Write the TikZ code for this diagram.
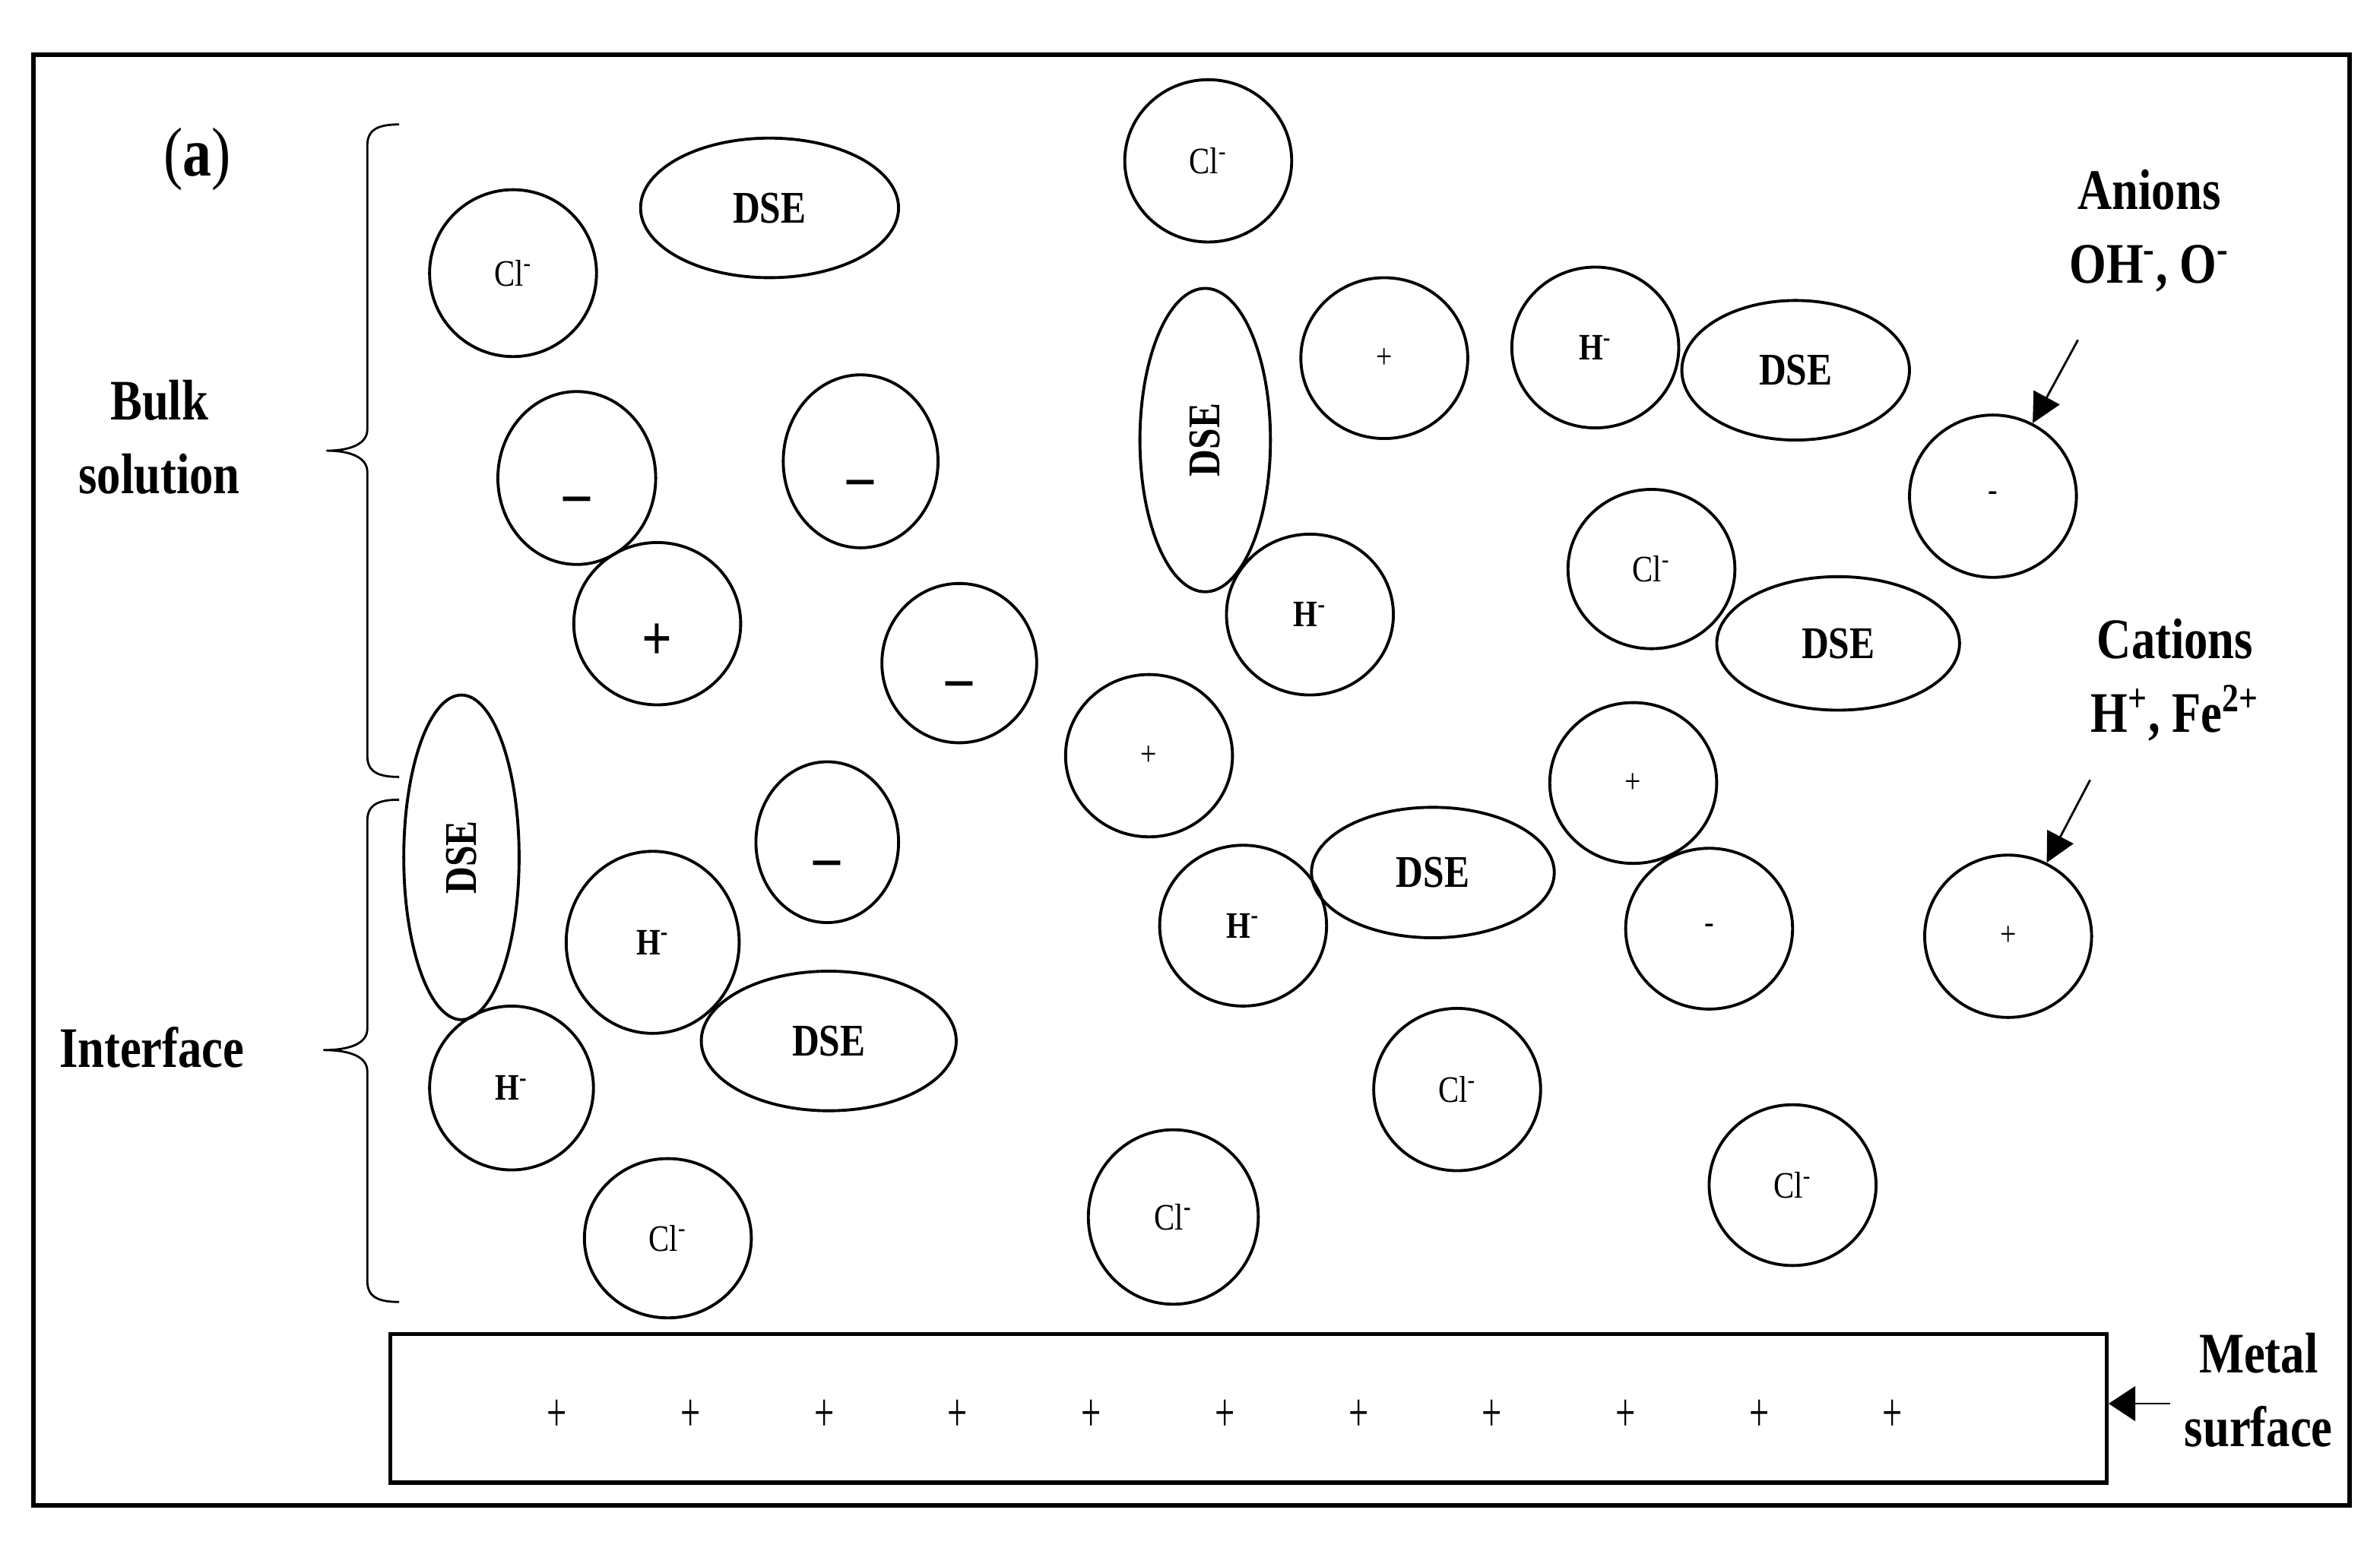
\documentclass[tikz,border=0pt]{standalone}
\usepackage{fontspec}
\setmainfont{Liberation Serif}[FakeStretch=0.83]
\usepackage{tikz}
\usetikzlibrary{shapes.geometric, arrows.meta}

\begin{document}
\begin{tikzpicture}[x=0.02cm, y=-0.02cm,
  ion/.style = {draw, ellipse, line width=1.1pt, inner sep=0pt, minimum width=2.2cm, minimum height=2.12cm, font=\fontsize{14}{16}\selectfont},
  hyd/.style = {font=\fontsize{14}{16}\selectfont\bfseries},
  dse/.style = {draw, ellipse, line width=1.1pt, inner sep=0pt, font=\fontsize{17}{19}\selectfont\bfseries},
  bigsign/.style = {font=\fontsize{24}{26}\selectfont\bfseries, text height=27pt, text depth=0pt},
  smallsign/.style = {font=\fontsize{13}{15}\selectfont},
  lbl/.style = {align=center, font=\fontsize{21.5}{27.5}\selectfont\bfseries},
  arr/.style = {line width=0.8pt, -{Triangle[length=11pt, width=11pt]}}]
\useasboundingbox (0,0) rectangle (1568,1022);
\draw[line width=1.8pt] (22,36) rectangle (1548,992);

\node[lbl, font=\fontsize{26}{28}\selectfont] (tag) at (130,105) {(\textbf{a})};
\node[lbl] (bulk) at (105,288) {Bulk\\solution};
\node[lbl] (iface) at (100,690) {Interface};
\node[lbl] (anions) at (1416,152) {Anions\\OH\textsuperscript{-}, O\textsuperscript{-}};
\node[lbl] (cations) at (1433,448) {Cations\\H\textsuperscript{+}, Fe\textsuperscript{2+}};
\node[lbl] (msurf) at (1488,916) {Metal\\surface};

\node[ion, minimum height=2.2cm] (cl1) at (338,180) {Cl\textsuperscript{-}};
\node[dse, minimum width=3.4cm, minimum height=1.84cm] (dse1) at (507,137) {DSE};
\node[ion, minimum height=2.14cm] (cl2) at (796,106) {Cl\textsuperscript{-}};
\node[ion, bigsign, minimum width=2.08cm, minimum height=2.28cm] (neg1) at (380,315) {--};
\node[ion, bigsign, minimum width=2.04cm, minimum height=2.28cm] (neg2) at (567,304) {--};
\node[ion, bigsign, minimum height=2.14cm] (pos1) at (433,411) {+};
\node[ion, bigsign, minimum width=2.04cm, minimum height=2.1cm] (neg3) at (632,437) {--};
\node[dse, rotate=90, minimum width=4cm, minimum height=1.72cm] (dse2) at (794,290) {DSE};
\node[ion, smallsign] (pos2) at (912,236) {+};
\node[ion, hyd] (hm1) at (1051,229) {H\textsuperscript{-}};
\node[dse, minimum width=3cm, minimum height=1.84cm] (dse3) at (1183,244) {DSE};
\node[ion, smallsign, minimum height=2.14cm] (neg4) at (1313,327) {-};
\node[ion, hyd] (hm2) at (863,405) {H\textsuperscript{-}};
\node[ion, minimum height=2.1cm] (cl3) at (1088,375) {Cl\textsuperscript{-}};
\node[dse, minimum width=3.2cm, minimum height=1.76cm] (dse4) at (1211,424) {DSE};
\node[ion, smallsign, minimum height=2.14cm] (pos3) at (757,498) {+};
\node[ion, smallsign] (pos4) at (1076,516) {+};
\node[dse, rotate=90, minimum width=4.28cm, minimum height=1.52cm] (dse5) at (304,565) {DSE};
\node[ion, bigsign, minimum width=1.88cm] (neg5) at (545,555) {--};
\node[ion, hyd, minimum width=2.28cm, minimum height=2.4cm] (hm3) at (430,621) {H\textsuperscript{-}};
\node[dse, minimum width=3.36cm, minimum height=1.84cm] (dse6) at (546,686) {DSE};
\node[ion, hyd, minimum width=2.16cm, minimum height=2.16cm] (hm4) at (337,717) {H\textsuperscript{-}};
\node[ion, minimum height=2.1cm] (cl4) at (440,816) {Cl\textsuperscript{-}};
\node[ion, hyd] (hm5) at (819,610) {H\textsuperscript{-}};
\node[dse, minimum width=3.2cm, minimum height=1.72cm] (dse7) at (944,575) {DSE};
\node[ion, smallsign] (neg6) at (1126,612) {-};
\node[ion, smallsign, minimum height=2.14cm] (pos5) at (1323,617) {+};
\node[ion, minimum height=2.14cm] (cl5) at (960,718) {Cl\textsuperscript{-}};
\node[ion, minimum width=2.24cm, minimum height=2.3cm] (cl6) at (773,802) {Cl\textsuperscript{\bfseries -}};
\node[ion] (cl7) at (1181,781) {Cl\textsuperscript{-}};

\node[draw, line width=1.5pt, inner sep=0pt, minimum width=22.62cm, minimum height=1.96cm] (metal) at (822.5,928) {};
\foreach \i in {0,...,10}
  \node[font=\fontsize{16}{18}\selectfont] (p\i) at ({367+88*\i},933) {\scalebox{1}[1.3]{+}};

\coordinate (astart) at (1369,224);
\coordinate (cstart) at (1377,514);
\coordinate (mstart) at (1430,925);
\draw[arr] (astart) -- (neg4);
\draw[arr] (cstart) -- (pos5);
\draw[arr, -{Triangle[length=10pt, width=13pt]}] (mstart) -- (mstart -| metal.east);

\draw[line width=0.8pt] (263,82) .. controls (248,82) and (242,86) .. (242,96) -- (242,283) .. controls (242,292) and (232,297) .. (215,297) .. controls (232,297) and (242,302) .. (242,311) -- (242,498) .. controls (242,508) and (248,512) .. (263,512);
\draw[line width=0.8pt] (263,527) .. controls (248,527) and (242,531) .. (242,541) -- (242,678) .. controls (242,687) and (232,692) .. (213,692) .. controls (232,692) and (242,697) .. (242,706) -- (242,844) .. controls (242,854) and (248,858) .. (263,858);
\end{tikzpicture}
\end{document}
